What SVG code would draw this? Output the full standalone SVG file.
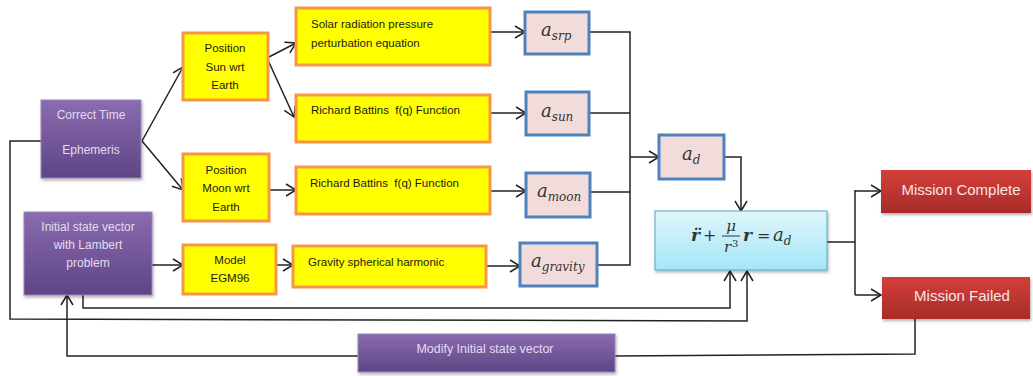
<svg xmlns="http://www.w3.org/2000/svg" width="1033" height="376" viewBox="0 0 1033 376">
<defs>
<linearGradient id="gPurple" x1="0" y1="0" x2="0" y2="1"><stop offset="0" stop-color="#8a6bb0"/><stop offset="1" stop-color="#5e4585"/></linearGradient>
<linearGradient id="gRed" x1="0" y1="0" x2="0" y2="1"><stop offset="0" stop-color="#d43f3a"/><stop offset="1" stop-color="#a82b29"/></linearGradient>
<linearGradient id="gCyan" x1="0" y1="0" x2="0" y2="1"><stop offset="0" stop-color="#dff6fc"/><stop offset="1" stop-color="#a4e6f8"/></linearGradient>
<filter id="sh" x="-10%" y="-10%" width="120%" height="130%"><feDropShadow dx="1" dy="2" stdDeviation="1.5" flood-color="#000" flood-opacity="0.3"/></filter>
<marker id="arr" markerWidth="14" markerHeight="14" refX="12" refY="7" orient="auto" markerUnits="userSpaceOnUse"><path d="M2,1 L12,7 L2,13" fill="none" stroke="#222" stroke-width="1.5"/></marker>
<style>
.purple{fill:url(#gPurple);stroke:#9a85bb;stroke-width:1;filter:url(#sh)}
.yellow{fill:#ffff00;stroke:#f79646;stroke-width:3}
.pink{fill:#f2dcdb;stroke:#4f81bd;stroke-width:3}
.red{fill:url(#gRed);filter:url(#sh)}
.cyan{fill:url(#gCyan);stroke:#4bacc6;stroke-width:1;filter:url(#sh)}
.pt{font-family:"Liberation Sans",Arial,sans-serif;font-size:12px;fill:#e4dcef;text-anchor:middle}
.yt{font-family:"Liberation Sans",Arial,sans-serif;font-size:11.5px;fill:#1a1a1a;white-space:pre}
.ytc{text-anchor:middle}
.rt{font-family:"Liberation Sans",Arial,sans-serif;font-size:15px;fill:#f6e6e6;text-anchor:middle}
.m{font-family:"DejaVu Serif","Liberation Serif",serif;font-style:italic;fill:#333}
.ml{font-size:18px}
.ms{font-size:12px}
.c{fill:none;stroke:#222;stroke-width:1.5}
</style>
</defs>

<g id="connectors">
<path class="c" d="M142,141 L183,67" marker-end="url(#arr)"/>
<path class="c" d="M142,141 L183,190" marker-end="url(#arr)"/>
<path class="c" d="M267,58 L296,43" marker-end="url(#arr)"/>
<path class="c" d="M267,58 L294,117" marker-end="url(#arr)"/>
<path class="c" d="M268,190 L296,190" marker-end="url(#arr)"/>
<path class="c" d="M152,265 L183,265" marker-end="url(#arr)"/>
<path class="c" d="M276,265 L293,265" marker-end="url(#arr)"/>
<path class="c" d="M490,32 L525,32" marker-end="url(#arr)"/>
<path class="c" d="M490,113 L526,113" marker-end="url(#arr)"/>
<path class="c" d="M490,191 L526,191" marker-end="url(#arr)"/>
<path class="c" d="M486,266 L520,266" marker-end="url(#arr)"/>
<path class="c" d="M589,32 L630,32 L630,265 L597,265"/>
<path class="c" d="M589,113 L630,113"/>
<path class="c" d="M590,192 L630,192"/>
<path class="c" d="M630,157 L659,157" marker-end="url(#arr)"/>
<path class="c" d="M724,157 L741,157 L741,211" marker-end="url(#arr)"/>
<path class="c" d="M827,242 L855,242"/>
<path class="c" d="M855,190 L855,295"/>
<path class="c" d="M855,191 L881,191" marker-end="url(#arr)"/>
<path class="c" d="M855,295 L881,295" marker-end="url(#arr)"/>
<path class="c" d="M915,318 L915,354 L615,356"/>
<path class="c" d="M358,356 L67,356 L67,295" marker-end="url(#arr)"/>
<path class="c" d="M83,295 L83,308 L730,308 L730,271" marker-end="url(#arr)"/>
<path class="c" d="M41,141 L10,141 L10,319 L747,321 L747,271" marker-end="url(#arr)"/>
</g>

<g id="correct-time">
<rect class="purple" x="41" y="100" width="100" height="78"/>
<text class="pt" x="91" y="119">Correct Time</text>
<text class="pt" x="91" y="154">Ephemeris</text>
</g>
<g id="initial-state">
<rect class="purple" x="24" y="212" width="128" height="83"/>
<text class="pt" x="88" y="231">Initial state vector</text>
<text class="pt" x="88" y="249">with Lambert</text>
<text class="pt" x="88" y="267">problem</text>
</g>
<g id="pos-sun">
<rect class="yellow" x="183" y="33" width="85" height="67"/>
<text class="yt ytc" x="225" y="52">Position</text>
<text class="yt ytc" x="225" y="71">Sun wrt</text>
<text class="yt ytc" x="225" y="89">Earth</text>
</g>
<g id="pos-moon">
<rect class="yellow" x="183" y="154" width="86" height="67"/>
<text class="yt ytc" x="226" y="174">Position</text>
<text class="yt ytc" x="226" y="192">Moon wrt</text>
<text class="yt ytc" x="226" y="211">Earth</text>
</g>
<g id="model-egm96">
<rect class="yellow" x="183" y="245" width="93" height="49"/>
<text class="yt ytc" x="230" y="264">Model</text>
<text class="yt ytc" x="230" y="282">EGM96</text>
</g>
<g id="srp-eq">
<rect class="yellow" x="296" y="8" width="194" height="57"/>
<text class="yt" x="311" y="28">Solar radiation pressure</text>
<text class="yt" x="311" y="47">perturbation equation</text>
</g>
<g id="battin-sun">
<rect class="yellow" x="296" y="95" width="194" height="47"/>
<text class="yt" x="311" y="114">Richard Battins  f(q) Function</text>
</g>
<g id="battin-moon">
<rect class="yellow" x="296" y="167" width="194" height="47"/>
<text class="yt" x="310" y="187">Richard Battins  f(q) Function</text>
</g>
<g id="gravity">
<rect class="yellow" x="293" y="246" width="193" height="41"/>
<text class="yt" x="308" y="266">Gravity spherical harmonic</text>
</g>
<g id="a-srp">
<rect class="pink" x="525" y="12" width="64" height="42"/>
<text class="m" x="541" y="36"><tspan class="ml">a</tspan><tspan class="ms" dy="4">srp</tspan></text>
</g>
<g id="a-sun">
<rect class="pink" x="526" y="92" width="63" height="43"/>
<text class="m" x="541" y="117"><tspan class="ml">a</tspan><tspan class="ms" dy="4">sun</tspan></text>
</g>
<g id="a-moon">
<rect class="pink" x="526" y="173" width="64" height="44"/>
<text class="m" x="537" y="197"><tspan class="ml">a</tspan><tspan class="ms" dy="4">moon</tspan></text>
</g>
<g id="a-gravity">
<rect class="pink" x="520" y="243" width="77" height="43"/>
<text class="m" x="531" y="267"><tspan class="ml">a</tspan><tspan class="ms" dy="4">gravity</tspan></text>
</g>
<g id="a-d">
<rect class="pink" x="659" y="135" width="65" height="44"/>
<text class="m" x="682" y="160"><tspan class="ml">a</tspan><tspan class="ms" dy="4">d</tspan></text>
</g>
<g id="equation">
<rect class="cyan" x="655" y="211" width="172" height="59"/>
<text class="m" x="691" y="241" font-size="17" font-weight="bold">r&#776;</text>
<text x="703" y="241" font-family="DejaVu Serif,Liberation Serif,serif" font-size="16" fill="#333">+</text>
<text class="m" x="731" y="231" font-size="15" text-anchor="middle">μ</text>
<line x1="722" y1="236" x2="740" y2="236" stroke="#333" stroke-width="1"/>
<text class="m" x="724" y="252" font-size="15">r</text>
<text x="732" y="247" font-family="DejaVu Serif,Liberation Serif,serif" font-size="10" fill="#333">3</text>
<text class="m" x="743" y="241" font-size="17" font-weight="bold">r</text>
<text x="757" y="241" font-family="DejaVu Serif,Liberation Serif,serif" font-size="16" fill="#333">=</text>
<text class="m" x="773" y="241"><tspan class="ml">a</tspan><tspan class="ms" dy="4">d</tspan></text>
</g>
<g id="mission-complete">
<rect class="red" x="881" y="170" width="150" height="43"/>
<text class="rt" x="961" y="195">Mission Complete</text>
</g>
<g id="mission-failed">
<rect class="red" x="882" y="277" width="148" height="42"/>
<text class="rt" x="962" y="301">Mission Failed</text>
</g>
<g id="modify">
<rect class="purple" x="358" y="334" width="257" height="38"/>
<text class="pt" x="485" y="353" font-size="11.5" textLength="137" lengthAdjust="spacingAndGlyphs">Modify Initial state vector</text>
</g>
</svg>
